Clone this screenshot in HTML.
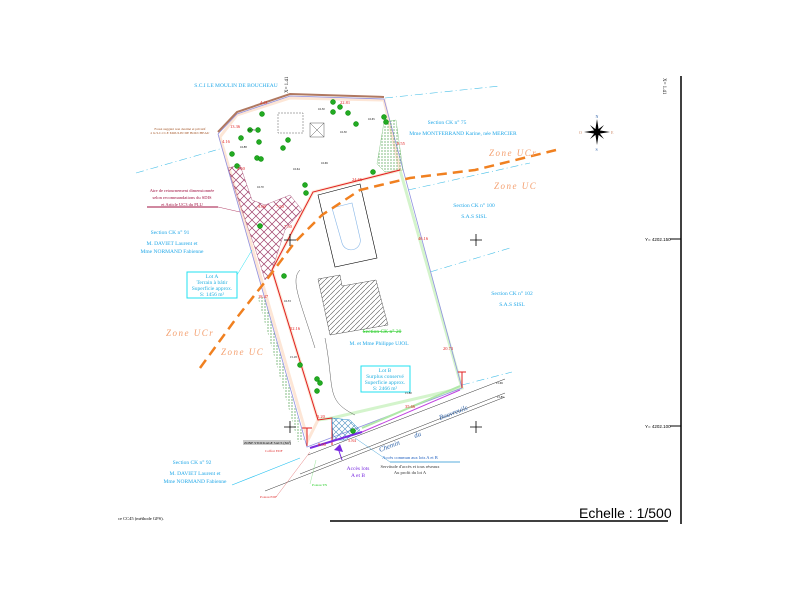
<!DOCTYPE html>
<html><head><meta charset="utf-8"><style>
html,body{margin:0;padding:0;background:#fff;}
svg{display:block;font-family:"Liberation Serif",serif;}
</style></head><body>
<svg width="800" height="600" viewBox="0 0 800 600" xmlns="http://www.w3.org/2000/svg">
<defs>
<pattern id="xh" width="8" height="8" patternUnits="userSpaceOnUse"><path d="M0,0L8,8M8,0L0,8" stroke="#a0406a" stroke-width="0.7"/></pattern>
<pattern id="hh" width="5" height="5" patternUnits="userSpaceOnUse"><path d="M0,5L5,0" stroke="#555" stroke-width="0.6"/></pattern>
<pattern id="gd" width="3" height="3" patternUnits="userSpaceOnUse"><circle cx="1" cy="1" r="0.6" fill="#2a8a2a"/></pattern>
<pattern id="bx" width="6" height="6" patternUnits="userSpaceOnUse"><path d="M0,0L6,6M6,0L0,6" stroke="#4a90c0" stroke-width="0.6"/></pattern>
</defs>
<rect width="800" height="600" fill="#fff"/>
<line x1="681" y1="76" x2="681" y2="524" stroke="#000" stroke-width="1.5"/>
<line x1="330" y1="521" x2="668" y2="521" stroke="#000" stroke-width="1.5"/>
<text x="579" y="518" font-family="Liberation Sans,sans-serif" font-size="14">Echelle : 1/500</text>
<line x1="670" y1="239" x2="681" y2="239" stroke="#000"/>
<text x="645" y="241" font-family="Liberation Sans,sans-serif" font-size="4.5">Y= 4202.150</text>
<line x1="670" y1="426" x2="681" y2="426" stroke="#000"/>
<text x="645" y="428" font-family="Liberation Sans,sans-serif" font-size="4.5">Y= 4202.100</text>
<text x="663" y="78" font-size="5" transform="rotate(90 663 78)">X= 1.41</text>
<text x="288" y="75" font-size="5" transform="rotate(-90 288 75) translate(-18 0)">X= 1.41</text>
<g transform="translate(597,132)">
<path d="M0,-13L2,0L0,13L-2,0Z M-13,0L0,-2L13,0L0,2Z" fill="#000"/>
<path d="M-7,-7L1,-1L7,7L-1,1Z M7,-7L1,1L-7,7L-1,-1Z" fill="#000"/>
<text x="-1.5" y="-14" font-size="4" fill="#3366aa">N</text>
<text x="-18" y="2" font-size="4" fill="#c86">O</text>
<text x="14" y="2" font-size="4" fill="#c86">E</text>
<text x="-1.5" y="19" font-size="4" fill="#3366aa">S</text>
</g>
<g stroke="#4ac0e8" stroke-width="0.6" stroke-dasharray="8,3,1,3" fill="none">
<line x1="136" y1="173" x2="230" y2="146"/>
<line x1="385" y1="98" x2="500" y2="86"/>
<line x1="408" y1="190" x2="530" y2="163"/>
<line x1="430" y1="272" x2="510" y2="248"/>
<line x1="462" y1="385" x2="512" y2="372"/>
</g>
<polygon points="313,192 400,170 462,388 332,418 318,420 272,270" fill="#fff" stroke="#d4f4cc" stroke-width="3"/>
<polygon points="220,137 237,115 290,98 384,100 400,170 313,192 272,270 318,420 308,440" fill="#fff" stroke="#fde6d6" stroke-width="3"/>
<polyline points="218,134 237,114 290,96 384,99 462,388 307,447 218,134" fill="none" stroke="#9090e0" stroke-width="0.8"/>
<polyline points="218,132 237,112 290,94 384,97" fill="none" stroke="#b07860" stroke-width="2"/>
<polygon points="384,122 396,120 403,170 385,172 377,164" fill="url(#gd)" stroke="#4a4" stroke-width="0.3"/>
<polygon points="258,298 264,296 304,440 298,442" fill="url(#gd)"/>
<polygon points="228,168 240,165 252,200 265,205 290,195 302,210 285,230 272,270 265,280 255,248 240,205" fill="url(#xh)" stroke="#a0406a" stroke-width="0.4"/>
<polyline points="400,170 313,192 272,270 318,420 332,418 332,445" fill="none" stroke="#e02020" stroke-width="1"/>
<polygon points="332,418 350,420 360,430 345,440 333,440" fill="url(#bx)" stroke="#2288cc" stroke-width="0.5"/>
<line x1="310" y1="448" x2="362" y2="432" stroke="#7a2be0" stroke-width="2"/>
<line x1="362" y1="432" x2="460" y2="390" stroke="#c040e0" stroke-width="1"/>
<line x1="362" y1="428" x2="460" y2="386" stroke="#b0e8a8" stroke-width="2"/>
<path d="M338,448 L342,460" stroke="#7a2be0" stroke-width="1"/>
<path d="M334,450 L340,444 L343,452Z" fill="#7a2be0"/>
<g stroke="#333" stroke-width="0.5" fill="none">
<line x1="308" y1="455" x2="505" y2="379"/>
<line x1="300" y1="474" x2="505" y2="393"/>
<line x1="265" y1="491" x2="505" y2="397"/>
</g>
<text x="380" y="452" font-size="7" font-style="italic" fill="#3366aa" transform="rotate(-21 380 452)">Chemin</text>
<text x="415" y="438" font-size="7" font-style="italic" fill="#3366aa" transform="rotate(-21 415 438)">du</text>
<text x="440" y="420" font-size="7" font-style="italic" fill="#3366aa" transform="rotate(-21 440 420)">Bouvreuils</text>
<polygon points="318,195 360,184 377,258 335,267" fill="none" stroke="#000" stroke-width="0.6"/>
<path d="M332,208 L352,203 L360,238 A9,9 0 0 1 342,243 Z" fill="none" stroke="#8ab8e8" stroke-width="0.6"/>
<polygon points="318,279 340,275 342,286 376,280 388,325 330,335" fill="url(#hh)" stroke="#333" stroke-width="0.4"/>
<path d="M315,348 C300,300 290,280 300,270 M325,338 C335,390 325,400 355,415" fill="none" stroke="#333" stroke-width="0.4"/>
<polyline points="200,368 235,320 268,278 295,242 322,215 360,190 410,178 475,170 556,150" fill="none" stroke="#f08020" stroke-width="2.5" stroke-dasharray="10,6"/>
<g font-size="9" font-style="italic" fill="#f4a070" font-family="Liberation Serif,serif" letter-spacing="1.5">
<text x="489" y="156">Zone UCr</text>
<text x="494" y="189">Zone UC</text>
<text x="166" y="336">Zone UCr</text>
<text x="221" y="355">Zone UC</text>
</g>
<g fill="#2a2" stroke="#080" stroke-width="0.5">
<circle cx="262" cy="114" r="2.5"/><circle cx="333" cy="102" r="2.5"/><circle cx="340" cy="107" r="2.5"/><circle cx="333" cy="112" r="2.5"/><circle cx="348" cy="113" r="2.5"/><circle cx="356" cy="124" r="2.5"/><circle cx="384" cy="117" r="2.5"/><circle cx="386" cy="122" r="2.5"/>
<circle cx="250" cy="130" r="2.5"/><circle cx="258" cy="130" r="2.5"/><circle cx="241" cy="138" r="2.5"/><circle cx="259" cy="142" r="2.5"/><circle cx="288" cy="140" r="2.5"/><circle cx="283" cy="148" r="2.5"/>
<circle cx="232" cy="154" r="2.5"/><circle cx="257" cy="158" r="2.5"/><circle cx="261" cy="159" r="2.5"/><circle cx="237" cy="166" r="2.5"/><circle cx="305" cy="185" r="2.5"/><circle cx="306" cy="193" r="2.5"/><circle cx="373" cy="172" r="2.5"/><circle cx="260" cy="226" r="2.5"/>
<circle cx="284" cy="276" r="2.5"/><circle cx="300" cy="365" r="2.5"/><circle cx="317" cy="379" r="2.5"/><circle cx="320" cy="383" r="2.5"/><circle cx="317" cy="391" r="2.5"/><circle cx="353" cy="431" r="2.5"/>
</g>
<rect x="278" y="113" width="25" height="20" fill="none" stroke="#333" stroke-width="0.4" stroke-dasharray="2,1"/>
<rect x="310" y="123" width="14" height="14" fill="none" stroke="#333" stroke-width="0.4"/>
<path d="M310,123L324,137M324,123L310,137" stroke="#333" stroke-width="0.4"/>
<g stroke="#000" stroke-width="0.8"><path d="M284,240h12M290,234v12M470,240h12M476,234v12M284,427h12M290,421v12M470,427h12M476,421v12"/></g>
<rect x="187" y="272" width="50" height="26" fill="none" stroke="#22e0f0" stroke-width="1"/>
<text font-size="5.5" fill="#22b0e0" text-anchor="middle"><tspan x="212" y="278">Lot A</tspan><tspan x="212" y="284">Terrain à bâtir</tspan><tspan x="212" y="290">Superficie approx.</tspan><tspan x="212" y="296">S: 1456 m²</tspan></text>
<line x1="237" y1="275" x2="252" y2="250" stroke="#22e0f0" stroke-width="0.5"/>
<rect x="361" y="366" width="49" height="26" fill="none" stroke="#22e0f0" stroke-width="1"/>
<text font-size="5.5" fill="#22b0e0" text-anchor="middle"><tspan x="385" y="372">Lot B</tspan><tspan x="385" y="378">Surplus conservé</tspan><tspan x="385" y="384">Superficie approx.</tspan><tspan x="385" y="390">S: 2466 m²</tspan></text>
<g font-size="5.5" fill="#22a8e8" text-anchor="middle">
<text x="236" y="87">S.C.I LE MOULIN DE BOUCHEAU</text>
<text x="447" y="124">Section CK n° 75</text>
<text x="463" y="135">Mme MONTFERRAND Karine, née MERCIER</text>
<text x="474" y="207">Section CK n° 100</text>
<text x="474" y="218">S.A.S SISL</text>
<text x="170" y="234">Section CK n° 91</text>
<text x="172" y="245">M. DAVIET Laurent et</text>
<text x="172" y="253">Mme NORMAND Fabienne</text>
<text x="512" y="295">Section CK n° 102</text>
<text x="512" y="306">S.A.S SISL</text>
<text x="379" y="345">M. et Mme Philippe UJOL</text>
<text x="192" y="464">Section CK n° 92</text>
<text x="195" y="475">M. DAVIET Laurent et</text>
<text x="195" y="483">Mme NORMAND Fabienne</text>
</g>
<text x="382" y="333" font-size="5.5" fill="#2c2" text-anchor="middle" text-decoration="line-through">Section CK n° 20</text>
<g font-size="4.5" fill="#a01040" text-anchor="middle">
<text x="182" y="192">Aire de retournement dimensionnée</text>
<text x="182" y="199">selon recommandations du SDIS</text>
<text x="182" y="206">et Article UC3 du PLU</text>
</g>
<line x1="147" y1="207" x2="218" y2="207" stroke="#a01040" stroke-width="1"/>
<line x1="218" y1="207" x2="240" y2="212" stroke="#a01040" stroke-width="0.4"/>
<text x="180" y="130" font-size="3.5" fill="#a05020" text-anchor="middle">Fossé suggéré non destiné et privatif</text>
<text x="180" y="134" font-size="3.5" fill="#a05020" text-anchor="middle">à la S.C.I LE MOULIN DE BOUCHEAU</text>
<text x="410" y="459" font-size="4.5" fill="#2060c0" text-anchor="middle">Accès commun aux lots A et B</text>
<line x1="390" y1="462" x2="460" y2="462" stroke="#2090d0" stroke-width="0.8"/>
<text x="410" y="468" font-size="4.5" fill="#333" text-anchor="middle">Servitude d'accès et tous réseaux</text>
<text x="410" y="474" font-size="4.5" fill="#333" text-anchor="middle">Au profit du lot A</text>
<line x1="390" y1="462" x2="355" y2="438" stroke="#2090d0" stroke-width="0.4"/>
<text x="358" y="470" font-size="5.5" fill="#7a2be0" text-anchor="middle">Accès lots</text>
<text x="358" y="477" font-size="5.5" fill="#7a2be0" text-anchor="middle">A et B</text>
<rect x="243" y="440" width="48" height="5" fill="#ccc"/>
<text x="244" y="444" font-size="3.5" fill="#000">ZONE STOCKAGE SACS (3m²)</text>
<text x="265" y="452" font-size="3.5" fill="#e03030">Coffret EDF</text>
<text x="260" y="498" font-size="3.5" fill="#e03030">Poteau EDF</text>
<text x="312" y="486" font-size="3.5" fill="#2c2">Poteau TN</text>
<line x1="276" y1="497" x2="310" y2="452" stroke="#e06060" stroke-width="0.4"/>
<line x1="310" y1="484" x2="316" y2="460" stroke="#80e080" stroke-width="0.4"/>
<line x1="232" y1="485" x2="300" y2="458" stroke="#22c0f0" stroke-width="0.6"/>
<text x="118" y="520" font-size="4.5" fill="#000">ce CC45 (méthode GPS).</text>
<g font-size="4.5" fill="#e02020">
<text x="260" y="104">4.41</text><text x="340" y="104">22.81</text><text x="230" y="128">13.36</text><text x="222" y="143">4.16</text>
<text x="397" y="145">8.55</text><text x="352" y="181">24.66</text><text x="237" y="170">2.50</text><text x="276" y="208">7.50</text><text x="258" y="208">9.00</text>
<text x="284" y="228">7.50</text><text x="418" y="240">46.16</text><text x="258" y="298">18.47</text><text x="290" y="330">52.16</text>
<text x="443" y="350">20.73</text><text x="317" y="418">5.20</text><text x="405" y="408">35.66</text><text x="318" y="446">8.00</text><text x="348" y="442">5.84</text>
</g>
<g font-size="3" fill="#000">
<text x="318" y="110">16.50</text><text x="368" y="120">16.65</text><text x="248" y="131">16.79</text><text x="340" y="133">16.30</text><text x="240" y="148">16.88</text><text x="293" y="170">16.64</text><text x="321" y="164">16.69</text><text x="257" y="188">16.70</text><text x="284" y="302">16.53</text><text x="290" y="358">15.18</text><text x="496" y="384">15.69</text><text x="497" y="398">15.85</text><text x="405" y="394">15.80</text>
</g>
<path d="M458,372 L466,372 M462,372 L462,388" stroke="#e02020" stroke-width="1"/>
<path d="M302,428 L312,428 M307,428 L307,446" stroke="#e02020" stroke-width="1"/>
</svg>
</body></html>
